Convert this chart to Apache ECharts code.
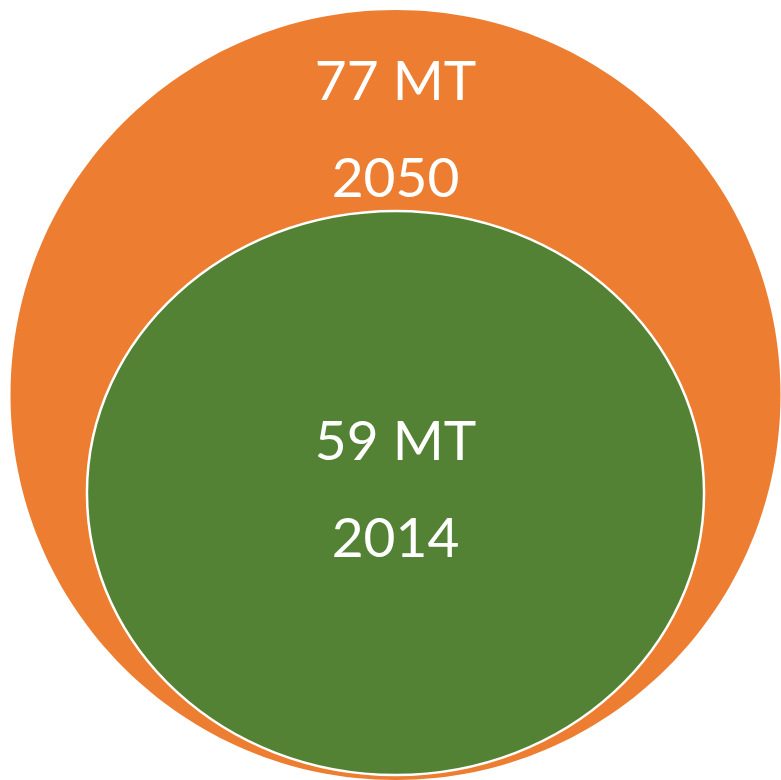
<!DOCTYPE html>
<html>
<head>
<meta charset="utf-8">
<script src="https://cdn.jsdelivr.net/npm/echarts@6/dist/echarts.min.js"></script>
<style>
html,body{margin:0;padding:0;background:#fff;}
#main{width:781px;height:780px;}
</style>
</head>
<body>
<div id="main"></div>
<script>
// Data
const amountLabels = ['77 MT', '59 MT'];
const amountValues = [77, 59];
const years = ['2050', '2014'];

// Layout / styles (not data)
const pxPerUnit = 5;
const layout = [
  { cx: 395.5, cy: 395, aspect: 1.0, color: '#ED7D31', stroke: null, t1: 82, t2: 179 },
  { cx: 395.5, cy: 493, aspect: 1.094, color: '#548235', stroke: '#ffffff', t1: 442, t2: 539 }
];

const seriesData = amountValues.map((v, i) => ({ value: [v, i], name: amountLabels[i] }));

const chart = echarts.init(document.getElementById('main'), null, { renderer: 'canvas' });
chart.setOption({
  animation: false,
  backgroundColor: '#ffffff',
  series: [{
    type: 'custom',
    coordinateSystem: 'none',
    data: seriesData,
    renderItem: function (params, api) {
      const i = params.dataIndex;
      const v = api.value(0);
      const L = layout[i];
      const r = v * pxPerUnit;
      const rx = r * Math.sqrt(L.aspect);
      const ry = r / Math.sqrt(L.aspect);
      const font = '55px Lato';
      return {
        type: 'group',
        children: [
          {
            type: 'ellipse',
            shape: { cx: L.cx, cy: L.cy, rx: rx, ry: ry },
            style: { fill: L.color, stroke: L.stroke || 'none', lineWidth: L.stroke ? 2.5 : 0 }
          },
          {
            type: 'text',
            style: { text: amountLabels[i], x: L.cx, y: L.t1, fill: '#fff', font: font, align: 'center', verticalAlign: 'middle' }
          },
          {
            type: 'text',
            style: { text: years[i], x: L.cx, y: L.t2, fill: '#fff', font: font, align: 'center', verticalAlign: 'middle' }
          }
        ]
      };
    }
  }]
});
</script>
</body>
</html>
